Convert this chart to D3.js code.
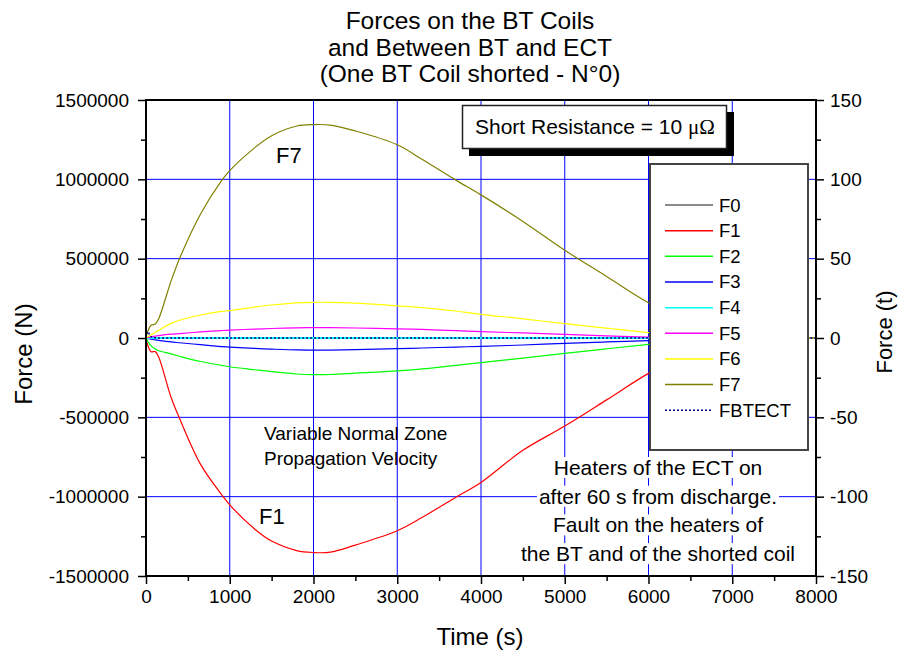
<!DOCTYPE html>
<html>
<head>
<meta charset="utf-8">
<style>
  body { margin: 0; background: #fff; }
  svg text { font-family: "Liberation Sans", Arial, sans-serif; fill: #000; }
</style>
</head>
<body>
<div class="chart"></div>
<script src="https://d3js.org/d3.v7.min.js"></script>
<script>
  // data (force in N, time in s)
  const timeS = [0, 20, 60, 110, 150, 300, 400, 650, 900, 1000, 1300, 1500, 1800, 2000, 2200, 2500, 3000, 3300, 3700, 4000, 4500, 5000, 5500, 6000, 6500, 7000, 7500, 8000]
  const f0 = [0, 0, 0, 0, 0, 0, 0, 0, 0, 0, 0, 0, 0, 0, 0, 0, 0, 0, 0, 0, 0, 0, 0, 0, 0, 0, 0, 0]
  const f1 = [0, -44000, -86000, -86000, -118000, -375000, -506000, -795000, -985000, -1052000, -1205000, -1280000, -1340000, -1352000, -1350000, -1305000, -1215000, -1130000, -1003000, -910000, -708000, -555000, -390000, -223000, -90000, -25000, -5000, 0]
  const f2 = [0, -20000, -50000, -70000, -80000, -100000, -115000, -148000, -172000, -181000, -200000, -212000, -227000, -231000, -230000, -222000, -207000, -195000, -172000, -155000, -127000, -97000, -68000, -40000, -14000, -3000, 0, 0]
  const f3 = [0, -3000, -8000, -12000, -15000, -25000, -30000, -42000, -54000, -58000, -66000, -70000, -75000, -76000, -76000, -73000, -67000, -63000, -57000, -53000, -44000, -34000, -25000, -17000, -6000, -1000, 0, 0]
  const f4 = [0, 0, 0, 0, 0, 0, 0, 0, 0, 0, 0, 0, 0, 0, 0, 0, 0, 0, 0, 0, 0, 0, 0, 0, 0, 0, 0, 0]
  const f5 = [0, 3000, 7000, 12000, 15000, 24000, 28000, 38000, 47000, 50000, 56000, 60000, 64000, 65000, 65000, 63000, 58000, 54000, 46000, 40000, 32000, 23000, 14000, 5000, 1000, 0, 0, 0]
  const f6 = [0, 8000, 20000, 35000, 48000, 92000, 112000, 145000, 168000, 172000, 195000, 208000, 221000, 225000, 225000, 220000, 203000, 192000, 170000, 149000, 121000, 90000, 62000, 34000, 12000, 3000, 0, 0]
  const f7 = [0, 40000, 80000, 88000, 120000, 360000, 500000, 780000, 990000, 1055000, 1200000, 1275000, 1336000, 1345000, 1342000, 1305000, 1218000, 1125000, 995000, 902000, 735000, 553000, 388000, 222000, 90000, 25000, 5000, 0]
  const fbtect = [0, 40000, 8000, 2000, 0, 0, 0, 0, 0, 0, 0, 0, 0, 0, 0, 0, 0, 0, 0, 0, 0, 0, 0, 0, 0, 0, 0, 0]

  const seriesNames = ['F0', 'F1', 'F2', 'F3', 'F4', 'F5', 'F6', 'F7', 'FBTECT']
  const seriesValues = [f0, f1, f2, f3, f4, f5, f6, f7, fbtect]

  const xTicks = [0, 1000, 2000, 3000, 4000, 5000, 6000, 7000, 8000]
  const yTicks = [-1500000, -1000000, -500000, 0, 500000, 1000000, 1500000]
  const yRightTicks = [-150, -100, -50, 0, 50, 100, 150]

  const titleLines = ['Forces on the BT Coils', 'and Between BT and ECT', '(One BT Coil shorted - N°0)']
  const heaterLines = ['Heaters of the ECT on', 'after 60 s from discharge.', 'Fault on the heaters of', 'the BT and of the shorted coil']
  const zoneLines = ['Variable Normal Zone', 'Propagation Velocity']

  // styles
  const colors = ['#000000', '#ff0000', '#00ff00', '#0000ff', '#00ffff', '#ff00ff', '#ffff00', '#808000', '#000080']

  const width = 900, height = 653
  const mLeft = 146, mRight = 816, mTop = 100, mBottom = 576

  const svg = d3.select('.chart').append('svg')
    .attr('width', width).attr('height', height)

  const xScale = d3.scaleLinear().domain([0, 8000]).range([mLeft, mRight])
  const yScale = d3.scaleLinear().domain([-1500000, 1500000]).range([mBottom, mTop])
  const yRight = d3.scaleLinear().domain([-150, 150]).range([mBottom, mTop])

  // 格線
  const grid = svg.append('g')
  grid.selectAll('.vg').data(xTicks.slice(1, -1)).join('line')
    .attr('x1', d => xScale(d)).attr('x2', d => xScale(d))
    .attr('y1', mTop).attr('y2', mBottom)
    .attr('stroke', '#0000ff').attr('stroke-width', 1)
  grid.selectAll('.hg').data(yTicks.slice(1, -1)).join('line')
    .attr('y1', d => yScale(d)).attr('y2', d => yScale(d))
    .attr('x1', mLeft).attr('x2', mRight)
    .attr('stroke', '#0000ff').attr('stroke-width', 1)

  // 折線
  const line = d3.line()
    .x(d => xScale(d[0]))
    .y(d => yScale(d[1]))
    .curve(d3.curveCatmullRom.alpha(0.5))

  const plot = svg.append('g')
  seriesValues.forEach((vals, i) => {
    const pts = timeS.map((t, j) => [t, vals[j]])
    plot.append('path')
      .attr('fill', 'none')
      .attr('stroke', colors[i])
      .attr('stroke-width', i === 8 ? 1.5 : (i === 4 ? 2 : 1.2))
      .attr('stroke-dasharray', i === 8 ? '2,2' : null)
      .attr('d', line(pts))
  })

  // text labels on the curves
  svg.append('text').attr('x', 276).attr('y', 163).attr('font-size', 22).text('F7')
  svg.append('text').attr('x', 259).attr('y', 524).attr('font-size', 22).text('F1')

  svg.append('g').selectAll('text').data(zoneLines).join('text')
    .attr('x', 264).attr('y', (d, i) => 440 + i * 25)
    .attr('font-size', 19)
    .text(d => d)

  // heaters note with white background per line
  const heat = svg.append('g')
  heaterLines.forEach((s, i) => {
    const t = heat.append('text')
      .attr('x', 658).attr('y', 475 + i * 28.7)
      .attr('text-anchor', 'middle')
      .attr('font-size', 21)
      .text(s)
    const bb = t.node().getBBox()
    heat.insert('rect', 'text')
      .attr('x', bb.x - 2).attr('y', bb.y + 1)
      .attr('width', bb.width + 4).attr('height', bb.height - 2)
      .attr('fill', '#fff')
  })

  // legend
  const lg = svg.append('g')
  lg.append('rect')
    .attr('x', 650).attr('y', 164).attr('width', 158).attr('height', 286)
    .attr('fill', '#fff').attr('stroke', '#444').attr('stroke-width', 2)
  seriesNames.forEach((name, i) => {
    const yy = 205 + i * 25.66
    lg.append('line')
      .attr('x1', 665).attr('x2', 713).attr('y1', yy).attr('y2', yy)
      .attr('stroke', i === 0 ? '#666' : colors[i])
      .attr('stroke-width', 1.5)
      .attr('stroke-dasharray', i === 8 ? '2,2' : null)
    lg.append('text')
      .attr('x', 719).attr('y', yy + 6.5)
      .attr('font-size', 18.5)
      .text(name)
  })

  // Short Resistance box
  const sr = svg.append('g')
  sr.append('rect').attr('x', 469).attr('y', 112).attr('width', 265).attr('height', 44).attr('fill', '#000')
  sr.append('rect').attr('x', 462.5).attr('y', 105.5).attr('width', 264).attr('height', 43)
    .attr('fill', '#fff').attr('stroke', '#222').attr('stroke-width', 1.5)
  const srText = sr.append('text').attr('x', 475).attr('y', 134).attr('font-size', 21)
  srText.append('tspan').text('Short Resistance = 10 ')
  srText.append('tspan').style('font-family', '"Liberation Serif", "DejaVu Serif", serif').text('μΩ')

  // frame
  svg.append('rect')
    .attr('x', mLeft).attr('y', mTop).attr('width', mRight - mLeft).attr('height', mBottom - mTop)
    .attr('fill', 'none').attr('stroke', '#000').attr('stroke-width', 2)

  // axes
  const xAxis = d3.axisBottom(xScale).tickValues(xTicks).tickSize(8).tickPadding(6).tickFormat(d => String(d))
  const xMinor = d3.axisBottom(xScale).tickValues(d3.range(500, 8000, 1000)).tickSize(5).tickFormat('')
  const yAxis = d3.axisLeft(yScale).tickValues(yTicks).tickSize(8).tickPadding(9).tickFormat(d => String(d))
  const yMinor = d3.axisLeft(yScale).tickValues(d3.range(-1250000, 1500000, 500000)).tickSize(5).tickFormat('')
  const yrAxis = d3.axisRight(yRight).tickValues(yRightTicks).tickSize(8).tickPadding(6).tickFormat(d => String(d))
  const yrMinor = d3.axisRight(yRight).tickValues(d3.range(-125, 150, 50)).tickSize(5).tickFormat('')

  const axes = [
    [xAxis, `translate(0,${mBottom})`], [xMinor, `translate(0,${mBottom})`],
    [yAxis, `translate(${mLeft},0)`], [yMinor, `translate(${mLeft},0)`],
    [yrAxis, `translate(${mRight},0)`], [yrMinor, `translate(${mRight},0)`]
  ]
  axes.forEach(([ax, tr]) => {
    const g = svg.append('g').attr('transform', tr).call(ax)
    g.select('.domain').remove()
    g.selectAll('line').attr('stroke', '#000').attr('stroke-width', 1.5)
    g.selectAll('text').attr('font-size', 19).attr('font-family', '"Liberation Sans", Arial, sans-serif').attr('fill', '#000')
  })

  // titles
  svg.append('g').selectAll('text').data(titleLines).join('text')
    .attr('x', 470).attr('y', (d, i) => 29 + i * 26.5)
    .attr('text-anchor', 'middle').attr('font-size', 24.5)
    .text(d => d)

  svg.append('text').attr('x', 480).attr('y', 645).attr('text-anchor', 'middle').attr('font-size', 24).text('Time (s)')
  svg.append('text').attr('transform', 'translate(32,354) rotate(-90)').attr('text-anchor', 'middle').attr('font-size', 24).text('Force (N)')
  svg.append('text').attr('transform', 'translate(892,332) rotate(-90)').attr('text-anchor', 'middle').attr('font-size', 22).text('Force (t)')
</script>
</body>
</html>
